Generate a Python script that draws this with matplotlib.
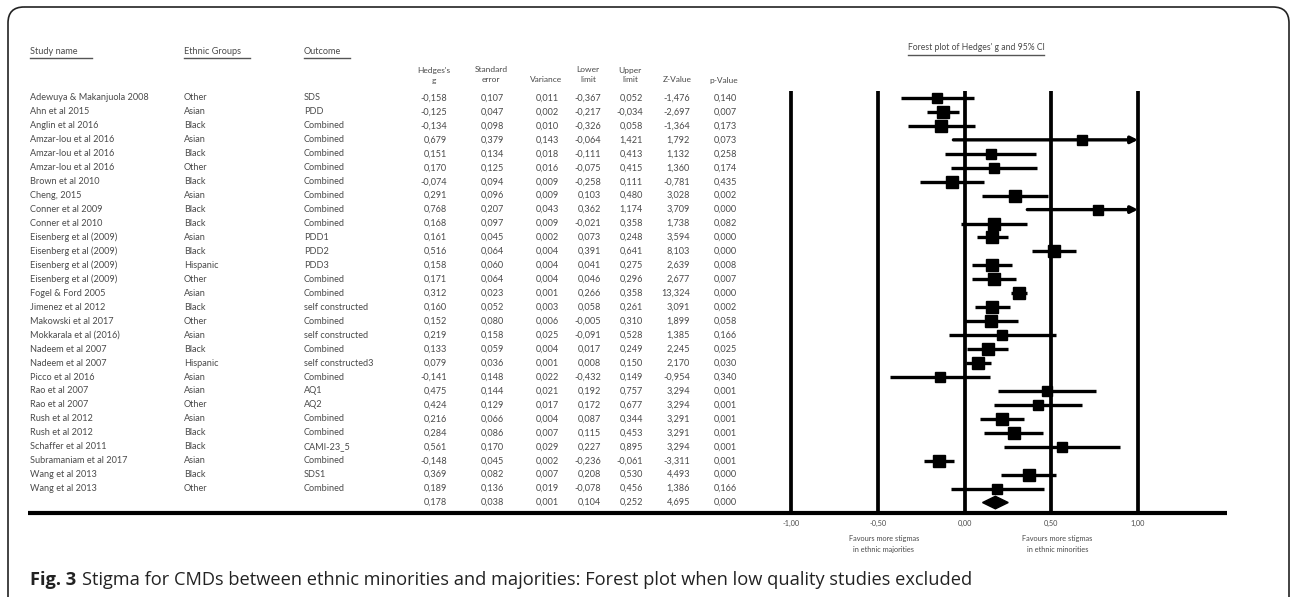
import numpy as np
import matplotlib.pyplot as plt
from matplotlib.patches import FancyBboxPatch, Polygon

# Table data
studies = ["Adewuya & Makanjuola 2008", "Ahn et al 2015", "Anglin et al 2016",
           "Amzar-lou et al 2016", "Amzar-lou et al 2016", "Amzar-lou et al 2016",
           "Brown et al 2010", "Cheng, 2015", "Conner et al 2009", "Conner et al 2010",
           "Eisenberg et al (2009)", "Eisenberg et al (2009)", "Eisenberg et al (2009)",
           "Eisenberg et al (2009)", "Fogel & Ford 2005", "Jimenez et al 2012",
           "Makowski et al 2017", "Mokkarala et al (2016)", "Nadeem et al 2007",
           "Nadeem et al 2007", "Picco et al 2016", "Rao et al 2007", "Rao et al 2007",
           "Rush et al 2012", "Rush et al 2012", "Schaffer et al 2011",
           "Subramaniam et al 2017", "Wang et al 2013", "Wang et al 2013"]
groups = ["Other", "Asian", "Black", "Asian", "Black", "Other", "Black", "Asian", "Black",
          "Black", "Asian", "Black", "Hispanic", "Other", "Asian", "Black", "Other", "Asian",
          "Black", "Hispanic", "Asian", "Asian", "Other", "Asian", "Black", "Black", "Asian",
          "Black", "Other"]
outcomes = ["SDS", "PDD", "Combined", "Combined", "Combined", "Combined", "Combined",
            "Combined", "Combined", "Combined", "PDD1", "PDD2", "PDD3", "Combined",
            "Combined", "self constructed", "Combined", "self constructed", "Combined",
            "self constructed3", "Combined", "AQ1", "AQ2", "Combined", "Combined",
            "CAMI-23_5", "Combined", "SDS1", "Combined"]
hedges_g = [-0.158, -0.125, -0.134, 0.679, 0.151, 0.170, -0.074, 0.291, 0.768, 0.168,
            0.161, 0.516, 0.158, 0.171, 0.312, 0.160, 0.152, 0.219, 0.133, 0.079,
            -0.141, 0.475, 0.424, 0.216, 0.284, 0.561, -0.148, 0.369, 0.189]
std_err = [0.107, 0.047, 0.098, 0.379, 0.134, 0.125, 0.094, 0.096, 0.207, 0.097,
           0.045, 0.064, 0.060, 0.064, 0.023, 0.052, 0.080, 0.158, 0.059, 0.036,
           0.148, 0.144, 0.129, 0.066, 0.086, 0.170, 0.045, 0.082, 0.136]
variance = [0.011, 0.002, 0.010, 0.143, 0.018, 0.016, 0.009, 0.009, 0.043, 0.009,
            0.002, 0.004, 0.004, 0.004, 0.001, 0.003, 0.006, 0.025, 0.004, 0.001,
            0.022, 0.021, 0.017, 0.004, 0.007, 0.029, 0.002, 0.007, 0.019]
lower = [-0.367, -0.217, -0.326, -0.064, -0.111, -0.075, -0.258, 0.103, 0.362, -0.021,
         0.073, 0.391, 0.041, 0.046, 0.266, 0.058, -0.005, -0.091, 0.017, 0.008,
         -0.432, 0.192, 0.172, 0.087, 0.115, 0.227, -0.236, 0.208, -0.078]
upper = [0.052, -0.034, 0.058, 1.421, 0.413, 0.415, 0.111, 0.480, 1.174, 0.358,
         0.248, 0.641, 0.275, 0.296, 0.358, 0.261, 0.310, 0.528, 0.249, 0.150,
         0.149, 0.757, 0.677, 0.344, 0.453, 0.895, -0.061, 0.530, 0.456]
z_value = [-1.476, -2.697, -1.364, 1.792, 1.132, 1.360, -0.781, 3.028, 3.709, 1.738,
           3.594, 8.103, 2.639, 2.677, 13.324, 3.091, 1.899, 1.385, 2.245, 2.170,
           -0.954, 3.294, 3.294, 3.291, 3.291, 3.294, -3.311, 4.493, 1.386]
p_value = [0.140, 0.007, 0.173, 0.073, 0.258, 0.174, 0.435, 0.002, 0.000, 0.082,
           0.000, 0.000, 0.008, 0.007, 0.000, 0.002, 0.058, 0.166, 0.025, 0.030,
           0.340, 0.001, 0.001, 0.001, 0.001, 0.001, 0.001, 0.000, 0.166]
summary = [0.178, 0.038, 0.001, 0.104, 0.252, 4.695, 0.000]

ticks = [-1.0, -0.5, 0.0, 0.5, 1.0]


def fmt(v):
    return f"{v:.3f}".replace(".", ",")


W, H = 1292, 597
fig = plt.figure(figsize=(W / 100, H / 100), dpi=100)
plt.rcParams['font.family'] = ['Lato', 'DejaVu Sans']

# background axes in pixel units for the table and frame
bg = fig.add_axes([0, 0, 1, 1])
bg.set_xlim(0, W)
bg.set_ylim(H, 0)
bg.axis('off')

frame = FancyBboxPatch((8, 7), 1281, 660, boxstyle="round,pad=0,rounding_size=16",
                       fill=False, lw=1.2, ec='#222222')
bg.add_patch(frame)

txt = '#4a4a4a'
fs = 6.6
row0, dy = 98, 13.95
n = len(studies)

# headers
for x, label, ul in [(30, "Study name", 62), (184, "Ethnic Groups", 66), (304, "Outcome", 46)]:
    bg.text(x, 52, label, fontsize=fs, color=txt, va='center', ha='left')
    bg.plot([x, x + ul], [58, 58], color='#555555', lw=1.0)

num_cols = [447, 504, 559, 601, 643, 690, 737]
heads = [("Hedges's", "g"), ("Standard", "error"), ("", "Variance"), ("Lower", "limit"),
         ("Upper", "limit"), ("", "Z-Value"), ("", "p-Value")]
for xr, (h1, h2) in zip(num_cols, heads):
    xc = xr - 13
    if h1:
        bg.text(xc, 70, h1, fontsize=fs - 0.6, color=txt, ha='center', va='center')
    bg.text(xc, 80, h2, fontsize=fs - 0.6, color=txt, ha='center', va='center')

cols = [hedges_g, std_err, variance, lower, upper, z_value, p_value]
for i in range(n):
    y = row0 + dy * i
    bg.text(30, y, studies[i], fontsize=fs, color=txt, va='center')
    bg.text(184, y, groups[i], fontsize=fs, color=txt, va='center')
    bg.text(304, y, outcomes[i], fontsize=fs, color=txt, va='center')
    for xr, col in zip(num_cols, cols):
        bg.text(xr, y, fmt(col[i]), fontsize=fs, color=txt, va='center', ha='right')
y = row0 + dy * n
for xr, v in zip(num_cols, summary):
    bg.text(xr, y, fmt(v), fontsize=fs, color=txt, va='center', ha='right')

# thick rule / axis line
bg.plot([28, 1227], [513, 513], color='black', lw=3.0, solid_capstyle='butt')

# forest plot axes
x0px, x1px, zero_px, per_unit = 760, 1227, 964.5, 173.5
top_px, bot_px = 91, 513
ax = fig.add_axes([x0px / W, 1 - bot_px / H, (x1px - x0px) / W, (bot_px - top_px) / H])
ax.set_xlim((x0px - zero_px) / per_unit, (x1px - zero_px) / per_unit)
ax.set_ylim((bot_px - row0) / dy, (top_px - row0) / dy)
ax.patch.set_alpha(0)
for s in ax.spines.values():
    s.set_visible(False)
ax.set_yticks([])
ax.set_xticks(ticks)
ax.set_xticklabels([fmt(t)[:-1] for t in ticks], fontsize=5.3, color=txt)
ax.tick_params(axis='x', length=0, pad=5)

for t in ticks:
    ax.axvline(t, color='black', lw=2.7, zorder=1)

g = np.array(hedges_g)
se = np.array(std_err)
w = 1 / se ** 2
sizes = 6.8 + 2.4 * (w / w.max()) ** 0.25
xmax = ticks[-1]
for i in range(n):
    hi = upper[i]
    if hi > xmax:
        ax.annotate('', xy=(xmax, i), xytext=(lower[i], i),
                    arrowprops=dict(arrowstyle='-|>', color='black', lw=2.4,
                                    mutation_scale=10, shrinkA=0, shrinkB=0), zorder=3)
    else:
        ax.plot([lower[i], hi], [i, i], color='black', lw=2.4, solid_capstyle='butt', zorder=3)
    ax.plot(g[i], i, marker='s', color='black', markersize=sizes[i], zorder=4)

# summary diamond
ys = n
diamond = Polygon([(summary[3], ys), (summary[0], ys - 0.45), (summary[4], ys),
                   (summary[0], ys + 0.45)], closed=True, color='black', zorder=4)
ax.add_patch(diamond)

ax.text(-0.465, 31.95, "Favours more stigmas\nin ethnic majorities", fontsize=5.3,
        color=txt, ha='center', va='center', linespacing=1.6, clip_on=False)
ax.text(0.535, 31.95, "Favours more stigmas\nin ethnic minorities", fontsize=5.3,
        color=txt, ha='center', va='center', linespacing=1.6, clip_on=False)

# forest title
bg.text(976, 47, "Forest plot of Hedges' g and 95% CI", fontsize=fs - 0.4, color=txt,
        ha='center', va='center')
bg.plot([908, 1044], [55, 55], color='#555555', lw=1.0)

# caption: bold label followed by the text, scaled to run up to the zero line
cap_fs = 12
renderer = fig.canvas.get_renderer()
t1 = bg.text(30, 580, "Fig. 3", fontsize=cap_fs, fontweight='bold', va='center', ha='left',
             color='#222222', family=['Open Sans', 'DejaVu Sans'])
t2 = bg.text(0, 580, "Stigma for CMDs between ethnic minorities and majorities: Forest plot when low quality studies excluded",
             fontsize=cap_fs, va='center', ha='left', color='#222222',
             family=['Open Sans', 'DejaVu Sans'])
w1 = t1.get_window_extent(renderer).width
w2 = t2.get_window_extent(renderer).width
gap = 0.3 * cap_fs * 100 / 72
scale = (968 - 30) / (w1 + w2 + gap)
cap_fs = cap_fs * scale
t1.set_fontsize(cap_fs)
t2.set_fontsize(cap_fs)
t2.set_x(30 + (w1 + gap) * scale)

fig.savefig('out.png', dpi=100)
